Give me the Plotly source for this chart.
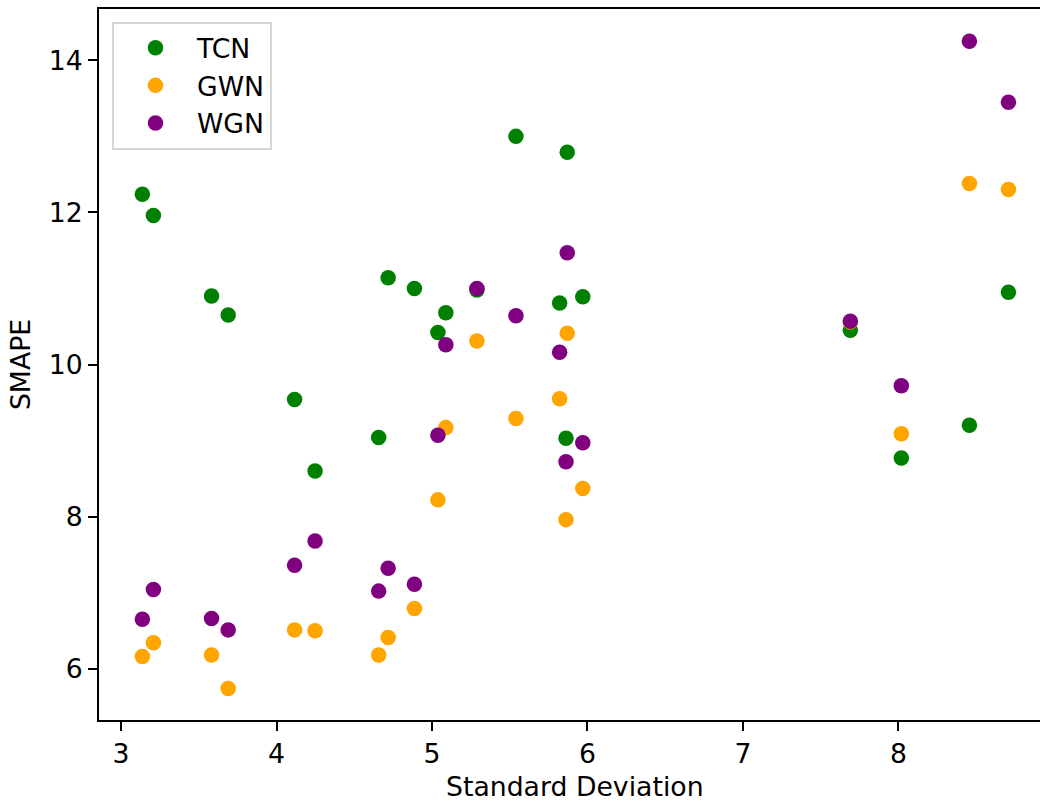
import plotly.graph_objects as go

std_dev = [3.137, 3.208, 3.582, 3.689, 4.116, 4.248, 4.657, 4.718, 4.887, 5.038,
           5.089, 5.289, 5.540, 5.821, 5.870, 5.862, 5.970, 7.691, 8.019, 8.457, 8.708]

tcn = [12.24, 11.96, 10.90, 10.65, 9.54, 8.60, 9.04, 11.14, 11.00, 10.42,
       10.68, 10.98, 13.00, 10.81, 12.79, 9.03, 10.89, 10.45, 8.77, 9.20, 10.95]

gwn = [6.16, 6.34, 6.18, 5.74, 6.51, 6.50, 6.18, 6.41, 6.79, 8.22,
       9.17, 10.31, 9.29, 9.55, 10.41, 7.96, 8.37, 10.56, 9.09, 12.38, 12.30]

wgn = [6.65, 7.04, 6.66, 6.51, 7.36, 7.68, 7.02, 7.32, 7.11, 9.07,
       10.26, 11.00, 10.64, 10.16, 11.47, 8.72, 8.97, 10.57, 9.72, 14.25, 13.45]

series = [("TCN", tcn, "green"), ("GWN", gwn, "orange"), ("WGN", wgn, "purple")]

FONT = "DejaVu Sans"
FS = 26.7
fig = go.Figure()
for name, vals, color in series:
    fig.add_trace(go.Scatter(
        x=std_dev, y=vals, mode="markers", name=name,
        marker=dict(color=color, size=15.5, line=dict(width=0)),
    ))

fig.update_layout(
    width=1040, height=800,
    margin=dict(l=99, r=0, t=9, b=80),
    paper_bgcolor="white", plot_bgcolor="white",
    font=dict(family=FONT, size=FS, color="black"),
    showlegend=True,
    legend=dict(
        x=0.0138, y=0.982, xanchor="left", yanchor="top",
        bgcolor="white", bordercolor="#d6d6d6", borderwidth=2,
        font=dict(family=FONT, size=FS, color="black"),
        itemwidth=73,
    ),
    xaxis=dict(
        range=[2.858, 8.911],
        tickvals=[3, 4, 5, 6, 7, 8],
        showgrid=False, zeroline=False,
        showline=True, linecolor="black", linewidth=2, mirror=True,
        ticks="outside", ticklen=9, tickwidth=2, tickcolor="black",
    ),
    yaxis=dict(
        range=[5.325, 14.675],
        tickvals=[6, 8, 10, 12, 14],
        showgrid=False, zeroline=False,
        showline=True, linecolor="black", linewidth=2, mirror=False,
        ticks="outside", ticklen=9, tickwidth=2, tickcolor="black",
        title=dict(text="SMAPE", font=dict(family=FONT, size=FS), standoff=10),
    ),
    annotations=[dict(
        text="Standard Deviation", xref="paper", yref="paper",
        x=0.5058, y=-0.0942, xanchor="center", yanchor="middle",
        showarrow=False, font=dict(family=FONT, size=FS, color="black"),
    )],
)

fig.write_html("out.html")
